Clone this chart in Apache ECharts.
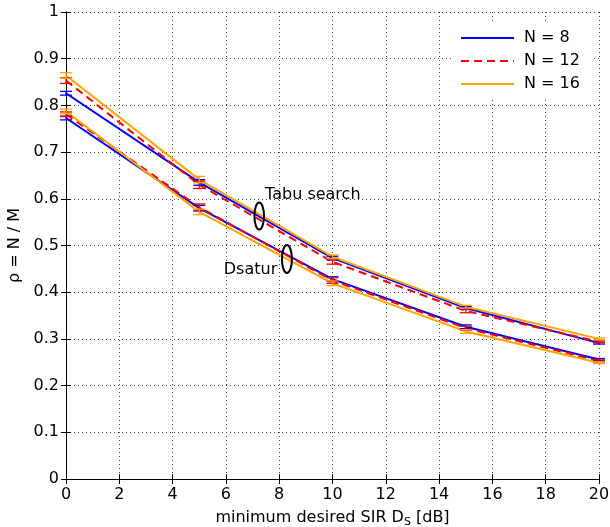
<!DOCTYPE html>
<html>
<head>
<meta charset="utf-8">
<script src="https://cdn.jsdelivr.net/npm/echarts@6/dist/echarts.min.js"></script>
<style>
html,body{margin:0;padding:0;background:#fff;}
#c{width:610px;height:527px;}
</style>
</head>
<body>
<div id="c"></div>
<script>
// ---- data ----
var xs = [0, 5, 10, 15, 20];
var seriesNames = ['N = 8', 'N = 12', 'N = 16'];
var tabuN8  = [0.826, 0.635, 0.473, 0.366, 0.291];
var tabuN12 = [0.853, 0.630, 0.465, 0.360, 0.294];
var tabuN16 = [0.864, 0.641, 0.476, 0.369, 0.300];
var dsatN8  = [0.773, 0.580, 0.428, 0.326, 0.256];
var dsatN12 = [0.781, 0.582, 0.425, 0.323, 0.253];
var dsatN16 = [0.787, 0.572, 0.419, 0.316, 0.249];
var tabuErrN8  = [0.004, 0.006, 0.004, 0.003, 0.002];
var tabuErrN12 = [0.006, 0.008, 0.005, 0.004, 0.002];
var tabuErrN16 = [0.006, 0.007, 0.004, 0.003, 0.002];
var dsatErrN8  = [0.004, 0.006, 0.005, 0.004, 0.002];
var dsatErrN12 = [0.005, 0.007, 0.006, 0.004, 0.002];
var dsatErrN16 = [0.005, 0.006, 0.005, 0.004, 0.002];
var xTicks = [0, 2, 4, 6, 8, 10, 12, 14, 16, 18, 20];
var yTicks = [0, 0.1, 0.2, 0.3, 0.4, 0.5, 0.6, 0.7, 0.8, 0.9, 1];

var colors = ['#0000ff', '#ff0000', '#ffa500'];
var FONT = '"DejaVu Sans", sans-serif';

function pairs(v) { return xs.map(function (x, i) { return [x, v[i]]; }); }
function triples(v, e) { return xs.map(function (x, i) { return [x, v[i], e[i]]; }); }

function lineSeries(name, vals, idx) {
  return {
    name: name, type: 'line', data: pairs(vals), symbol: 'none', z: 3,
    lineStyle: { color: colors[idx], width: 2, type: idx === 1 ? [8, 5] : 'solid' },
    itemStyle: { color: colors[idx] }, animation: false
  };
}
function errSeries(vals, errs, idx) {
  return {
    name: 'err' + idx, type: 'custom', data: triples(vals, errs), z: 4, animation: false,
    renderItem: function (params, api) {
      var x = api.value(0), y = api.value(1), e = api.value(2);
      var top = api.coord([x, y + e]);
      var bot = api.coord([x, y - e]);
      var w = 6;
      var st = { stroke: colors[idx], lineWidth: 1.3 };
      return { type: 'group', children: [
        { type: 'line', shape: { x1: top[0], y1: top[1], x2: bot[0], y2: bot[1] }, style: st },
        { type: 'line', shape: { x1: top[0] - w, y1: top[1], x2: top[0] + w, y2: top[1] }, style: st },
        { type: 'line', shape: { x1: bot[0] - w, y1: bot[1], x2: bot[0] + w, y2: bot[1] }, style: st }
      ]};
    }
  };
}

var chart = echarts.init(document.getElementById('c'), null, { renderer: 'canvas' });
var axisLineStyle = { color: '#000', width: 1 };
var option = {
  backgroundColor: '#fff',
  animation: false,
  textStyle: { fontFamily: FONT },
  grid: { left: 66, right: 11, top: 12, bottom: 48, containLabel: false, outerBoundsMode: 'none' },
  legend: {
    data: seriesNames, orient: 'vertical', left: 452, top: 22,
    padding: [8, 13, 8, 8], itemWidth: 53, itemHeight: 14, itemGap: 7,
    backgroundColor: '#fff', borderWidth: 0,
    itemStyle: { opacity: 0 },
    textStyle: { fontSize: 16, color: '#000', fontFamily: FONT, padding: [0, 0, 0, 5] }
  },
  xAxis: [{
    type: 'value', min: xTicks[0], max: xTicks[xTicks.length - 1], interval: xTicks[1] - xTicks[0],
    name: 'minimum desired SIR D{sub|S} [dB]', nameLocation: 'middle', nameGap: 29,
    nameTextStyle: { fontSize: 16, color: '#000', fontFamily: FONT,
      rich: { sub: { fontSize: 11, verticalAlign: 'bottom', padding: [9, 0, 0, 0], fontFamily: FONT, color: '#000' } } },
    axisLine: { show: true, lineStyle: axisLineStyle },
    axisTick: { show: true, inside: true, length: 5, lineStyle: axisLineStyle },
    axisLabel: { fontSize: 16, color: '#000', margin: 8, fontFamily: FONT },
    splitLine: { show: true, lineStyle: { color: '#444', type: [1, 3], width: 1 } }
  }, {
    type: 'value', position: 'top', min: xTicks[0], max: xTicks[xTicks.length - 1], interval: xTicks[1] - xTicks[0],
    axisLine: { show: true, lineStyle: axisLineStyle },
    axisTick: { show: true, inside: true, length: 5, lineStyle: axisLineStyle },
    axisLabel: { show: false }, splitLine: { show: false }
  }],
  yAxis: [{
    type: 'value', min: yTicks[0], max: yTicks[yTicks.length - 1], interval: 0.1,
    name: 'ρ = N / M', nameLocation: 'middle', nameGap: 40,
    nameTextStyle: { fontSize: 16, color: '#000', fontFamily: FONT },
    axisLine: { show: true, lineStyle: axisLineStyle },
    axisTick: { show: true, inside: true, length: 5, lineStyle: axisLineStyle },
    axisLabel: { fontSize: 16, color: '#000', margin: 7, fontFamily: FONT,
      formatter: function (v) { return (v === 0 || v === 1) ? String(v) : v.toFixed(1); } },
    splitLine: { show: true, lineStyle: { color: '#444', type: [1, 3], width: 1 } }
  }, {
    type: 'value', position: 'right', min: yTicks[0], max: yTicks[yTicks.length - 1], interval: 0.1,
    axisLine: { show: true, lineStyle: axisLineStyle },
    axisTick: { show: true, inside: true, length: 5, lineStyle: axisLineStyle },
    axisLabel: { show: false }, splitLine: { show: false }
  }],
  series: [
    lineSeries(seriesNames[0], tabuN8, 0),
    lineSeries(seriesNames[1], tabuN12, 1),
    lineSeries(seriesNames[2], tabuN16, 2),
    lineSeries(seriesNames[0], dsatN8, 0),
    lineSeries(seriesNames[1], dsatN12, 1),
    lineSeries(seriesNames[2], dsatN16, 2),
    errSeries(tabuN8, tabuErrN8, 0),
    errSeries(tabuN12, tabuErrN12, 1),
    errSeries(tabuN16, tabuErrN16, 2),
    errSeries(dsatN8, dsatErrN8, 0),
    errSeries(dsatN12, dsatErrN12, 1),
    errSeries(dsatN16, dsatErrN16, 2)
  ]
};
chart.setOption(option);

// annotations placed in data coordinates
var tabuEll = chart.convertToPixel({ gridIndex: 0 }, [7.25, 0.563]);
var dsatEll = chart.convertToPixel({ gridIndex: 0 }, [8.29, 0.471]);
var tabuTxt = chart.convertToPixel({ gridIndex: 0 }, [7.47, 0.608]);
var dsatTxt = chart.convertToPixel({ gridIndex: 0 }, [5.92, 0.447]);
chart.setOption({
  graphic: [
    { type: 'ellipse', z: 10, shape: { cx: tabuEll[0], cy: tabuEll[1], rx: 4.8, ry: 13.5 },
      style: { fill: 'none', stroke: '#000', lineWidth: 2 } },
    { type: 'ellipse', z: 10, shape: { cx: dsatEll[0], cy: dsatEll[1], rx: 5, ry: 14 },
      style: { fill: 'none', stroke: '#000', lineWidth: 2 } },
    { type: 'text', z: 10, x: tabuTxt[0], y: tabuTxt[1],
      style: { text: 'Tabu search', font: '16px ' + FONT, fill: '#000', verticalAlign: 'middle', textAlign: 'left' } },
    { type: 'text', z: 10, x: dsatTxt[0], y: dsatTxt[1],
      style: { text: 'Dsatur', font: '16px ' + FONT, fill: '#000', verticalAlign: 'middle', textAlign: 'left' } }
  ]
});
</script>
</body>
</html>
